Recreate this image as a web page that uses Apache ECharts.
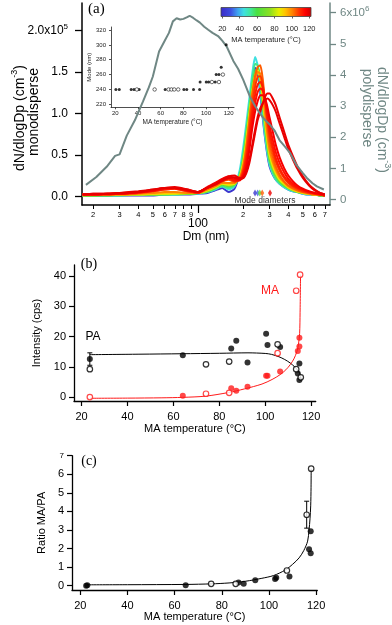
<!DOCTYPE html>
<html><head><meta charset="utf-8">
<script src="https://cdn.jsdelivr.net/npm/echarts@6/dist/echarts.min.js"></script>
<style>html,body{margin:0;padding:0;background:#fff}#c{width:392px;height:625px}</style>
</head><body><div id="c"></div>
<script>
// ---------- Panel (a): monodisperse size distributions (units 1e5 cm-3) ----------
const dmGrid = [17,20,25,30,40,50,60,70,85,100,115,130,145,160,175,190,200,210,220,230,240,250,260,270,280,290,300,315,330,350,375,400,430,460,500,550,600,650,700];
const monoTemps = [22,45,54,64,75,85,92,100,104,108,111,113,116,117.5,118];
const monoT22  = [.01,.01,.01,.01,.01,.01,.02,.02,.02,.03,.04,.07,.10,.05,.09,.28,.50,.80,1.10,1.38,1.55,1.48,1.25,.95,.70,.50,.36,.26,.20,.15,.11,.08,.06,.05,.03,.02,.02,.01,.01];
const monoT45  = [.01,.01,.01,.01,.02,.02,.02,.02,.03,.03,.05,.08,.12,.08,.12,.32,.58,.88,1.18,1.48,1.68,1.58,1.30,.98,.72,.52,.38,.27,.20,.15,.11,.08,.06,.05,.03,.02,.02,.01,.01];
const monoT54  = [.01,.01,.01,.01,.02,.02,.02,.02,.03,.04,.05,.09,.12,.10,.13,.28,.50,.80,1.10,1.40,1.60,1.58,1.38,1.06,.78,.57,.41,.29,.21,.16,.12,.09,.07,.05,.04,.03,.02,.01,.01];
const monoT64  = [.01,.01,.01,.02,.02,.02,.02,.03,.03,.04,.06,.10,.14,.12,.14,.25,.45,.74,1.05,1.32,1.50,1.55,1.42,1.15,.86,.62,.45,.33,.25,.18,.13,.10,.07,.05,.04,.03,.02,.01,.01];
const monoT75  = [.01,.01,.02,.02,.02,.02,.03,.03,.03,.04,.06,.10,.15,.13,.15,.25,.43,.70,1.00,1.28,1.46,1.52,1.42,1.16,.88,.64,.47,.34,.26,.19,.14,.10,.07,.05,.04,.03,.02,.01,.01];
const monoT85  = [.01,.02,.02,.02,.02,.03,.03,.03,.04,.04,.07,.11,.15,.14,.15,.24,.40,.66,.98,1.26,1.45,1.52,1.44,1.20,.92,.68,.50,.37,.28,.20,.15,.11,.08,.06,.04,.03,.02,.02,.01];
const monoT92  = [.02,.02,.02,.02,.03,.03,.04,.04,.04,.04,.08,.12,.16,.15,.16,.23,.38,.62,.94,1.22,1.42,1.50,1.46,1.24,.96,.72,.53,.40,.30,.22,.16,.11,.08,.06,.04,.03,.02,.02,.01];
const monoT100 = [.02,.02,.02,.02,.03,.04,.05,.05,.04,.04,.08,.12,.16,.16,.16,.22,.36,.60,.92,1.22,1.42,1.50,1.48,1.28,1.00,.75,.56,.42,.32,.23,.17,.12,.09,.07,.05,.03,.02,.02,.01];
const monoT104 = [.02,.02,.02,.03,.04,.06,.08,.09,.06,.04,.09,.13,.18,.20,.17,.22,.34,.58,.90,1.22,1.45,1.56,1.58,1.42,1.12,.85,.64,.48,.36,.26,.18,.13,.10,.07,.05,.04,.03,.02,.01];
const monoT108 = [.02,.02,.03,.03,.05,.07,.09,.10,.07,.04,.10,.14,.20,.22,.18,.20,.30,.50,.80,1.10,1.32,1.44,1.45,1.35,1.15,.92,.72,.55,.42,.31,.22,.16,.12,.09,.06,.04,.03,.02,.01];
const monoT111 = [.02,.02,.02,.03,.04,.06,.08,.09,.06,.04,.10,.14,.18,.21,.19,.20,.28,.45,.72,1.00,1.22,1.35,1.38,1.32,1.16,.96,.78,.60,.46,.34,.24,.18,.13,.10,.07,.05,.03,.02,.01];
const monoT113 = [.02,.02,.03,.03,.05,.07,.09,.10,.07,.05,.10,.15,.20,.23,.20,.19,.26,.40,.64,.92,1.12,1.26,1.30,1.28,1.18,1.02,.85,.68,.53,.40,.29,.21,.15,.11,.08,.05,.04,.02,.01];
const monoT116 = [.02,.02,.03,.03,.05,.07,.10,.10,.07,.05,.11,.16,.21,.24,.22,.20,.24,.35,.56,.82,1.02,1.15,1.22,1.22,1.18,1.08,.95,.78,.62,.47,.34,.25,.18,.13,.09,.06,.04,.03,.02];
const monoT117 = [.02,.03,.03,.04,.06,.08,.10,.11,.08,.05,.10,.15,.20,.24,.25,.22,.22,.28,.40,.58,.76,.92,1.02,1.12,1.20,1.24,1.24,1.18,1.10,.95,.78,.62,.48,.36,.24,.14,.08,.04,.02];
const monoT118 = [.02,.03,.03,.04,.05,.08,.10,.10,.08,.05,.10,.14,.19,.22,.23,.21,.22,.30,.44,.62,.80,.96,1.06,1.12,1.16,1.18,1.16,1.10,1.02,.88,.72,.57,.44,.33,.22,.13,.07,.04,.02];
const monoCurves = [monoT22,monoT45,monoT54,monoT64,monoT75,monoT85,monoT92,monoT100,monoT104,monoT108,monoT111,monoT113,monoT116,monoT117,monoT118];

// polydisperse (units 1e6 cm-3)
const polyDm = [17.9,21,24.6,28,30,33.5,38,43,47,50,55,60,64,68,72,76,80,84,88,93,98,103,110,117,125,136,145,155,172,185,200,222,240,259,280,302,325,350,380,410,454,500,530,580,620,690];
const polyN  = [0.47,0.72,1.05,1.40,1.45,2.05,2.55,3.15,3.6,3.95,4.75,5.1,5.35,5.72,5.82,5.78,5.8,5.85,5.9,5.83,5.75,5.68,5.55,5.45,5.35,5.25,5.1,4.92,4.45,4.2,3.85,3.3,3.0,2.76,2.55,2.4,2.2,1.9,1.7,1.5,1.1,0.85,0.7,0.52,0.42,0.32];

// mode diameters markers
const modeDm = [240,250,258,268,302];
const modeT  = [22,32,64,104,117];
const modeLevel = 0.04;

// inset: mode vs MA temperature
const insetFilledT    = [20.5,23.5,34,36.5,41,64,80.5,83,89,94.4,94.8,100.2,102.3,108.1,109,111.4,113.4,117.8];
const insetFilledMode = [240,240,240,240,240,240,240,240,240,240,250,250,250,250,260,260,270,300];
const insetOpenT      = [39,54.7,67,69.5,72,75.5,105.2,111.4,114.9];
const insetOpenMode   = [240,240,240,240,240,240,250,250,260];

// axis tick labels
const aXTicks = [20,30,40,50,60,70,80,90,200,300,400,500,600,700];
const aLeftTicks = [0,0.5,1.0,1.5,2.0];
const aRightTicks = [0,1,2,3,4,5,6];
const insetXTicks = [20,40,60,80,100,120];
const insetYTicks = [220,240,260,280,300,320];
const cbTicks = [20,40,60,80,100,120];
const tempTicks = [20,40,60,80,100,120];
const bYTicks = [0,10,20,30,40];
const cYTicks = [0,1,2,3,4,5,6,7];

// ---------- Panel (b): intensities ----------
const paFilledT = [23.6,64.1,85.2,87.4,92.3,100.4,101.0,106.5,114.9,114.2,114.9];
const paFilledI = [12.6,13.8,16.0,18.6,11.4,20.9,17.2,16.5,11.1,7.8,5.6];
const paOpenT   = [23.6,74.2,84.3,105.4,113.5,115.5];
const paOpenI   = [9.2,10.8,11.7,17.4,9.2,6.5];
const maFilledT = [64.1,85.2,87.4,92.3,100.4,101.0,106.5,114.2,114.9,114.9];
const maFilledI = [0.4,2.9,2.1,3.4,7.0,7.0,8.4,15.2,16.7,19.6];
const maOpenT   = [23.6,74.2,84.3,105.4,113.5,115.2];
const maOpenI   = [0.0,1.1,1.4,14.5,35.1,40.4];
const paErr     = [[23.6,10.5,14.6]];
const paFitT = [23.6,45,63.5,80,92.5,100,102.7,106,108.5,110.8,112.8,114.2,115,115.5];
const paFitI = [14.0,14.15,14.3,14.45,14.6,14.4,14.1,13.3,12.4,11.3,10.0,8.8,7.8,6.2];
const maFitT = [23.6,40,55,64,74,84,91,98.6,103,106.5,109,110.9,112.5,113.8,114.5,115,115.2,115.4];
const maFitI = [-0.4,-0.35,-0.25,-0.1,0.3,1.5,2.7,4.3,5.8,7.4,9.0,10.7,12.6,15.0,17.5,21,28,40.4];

// ---------- Panel (c): ratio MA/PA ----------
const rFilledT = [22.5,23.0,64.7,87.1,89.3,94.2,102.6,103.1,108.7,117.0,117.7,117.7];
const rFilledR = [0.0,0.02,0.03,0.18,0.1,0.29,0.36,0.43,0.5,1.97,2.93,1.75];
const rOpenT   = [75.5,85.9,107.6,116.0,117.9];
const rOpenR   = [0.1,0.1,0.82,3.82,6.3];
const rErr     = [[116.0,3.1,4.55]];
const rFitT = [22.8,40,64.8,75.5,83.1,90,97,102,107,110,112.8,114.8,116.4,117.0,117.4,117.7,117.85,117.9];
const rFitR = [0.05,0.055,0.07,0.1,0.15,0.24,0.4,0.55,0.85,1.15,1.5,1.9,2.4,3.0,3.6,4.3,5.3,6.3];

// ---------- styles ----------
const SANS = 'Liberation Sans, Arial, sans-serif';
const SERIF = 'Liberation Serif, Times New Roman, serif';
const GRAY = '#6f8784';
const RED = '#ff1a1a';
const cmapT = [20,30,38,45,52,60,75,85,92,100,108,115,120];
const cmapC = ['#3b2fc9','#3d4fe0','#3fa2f0','#3fe0e0','#40e8a0','#48e040','#8ee020','#e6f000','#ffc400','#ff8400','#ff3400','#ff0000','#d80000'];
function hex2rgb(h){return [1,3,5].map(i=>parseInt(h.substr(i,2),16));}
function cmap(t){
  if(t<=cmapT[0]) return cmapC[0];
  for(let i=1;i<cmapT.length;i++){
    if(t<=cmapT[i]){
      const f=(t-cmapT[i-1])/(cmapT[i]-cmapT[i-1]);
      const a=hex2rgb(cmapC[i-1]), b=hex2rgb(cmapC[i]);
      return 'rgb('+a.map((v,k)=>Math.round(v+(b[k]-v)*f)).join(',')+')';
    }
  }
  return cmapC[cmapC.length-1];
}
const zip = (a,b)=>a.map((v,i)=>[v,b[i]]);
const noSplit = {show:false};

function plainX(grid, min, max, ticks, o){
  return Object.assign({
    gridIndex:grid, type:'value', min, max, splitLine:noSplit,
    axisLine:{onZero:false, lineStyle:{color:'#000', width:1.3}},
    axisTick:{customValues:ticks, length:5, lineStyle:{color:'#000', width:1.2}},
    axisLabel:{customValues:ticks, color:'#000', fontSize:11, margin:10, fontFamily:SANS}
  }, o||{});
}
function plainY(grid, min, max, ticks, o){
  return Object.assign({
    gridIndex:grid, type:'value', min, max, splitLine:noSplit,
    axisLine:{onZero:false, lineStyle:{color:'#000', width:1.3}},
    axisTick:{customValues:ticks, length:5, lineStyle:{color:'#000', width:1.2}},
    axisLabel:{customValues:ticks, color:'#000', fontSize:11, margin:8, fontFamily:SANS}
  }, o||{});
}

const cbStops = [{offset:0,color:cmapC[0]}].concat(cmapT.map((t,i)=>({offset:(t-18.5)/(122-18.5),color:cmapC[i]}))).concat([{offset:1,color:cmapC[cmapC.length-1]}]);

const supRich = {
  b:{fontSize:12, lineHeight:16, fontFamily:SANS, color:'#000'},
  s:{fontSize:8, lineHeight:8, verticalAlign:'top', fontFamily:SANS, color:'#000'}
};
const supRichGray = {
  b:{fontSize:11.5, lineHeight:16, fontFamily:SANS, color:GRAY},
  s:{fontSize:8, lineHeight:8, verticalAlign:'top', fontFamily:SANS, color:GRAY}
};
const titleRich = {
  a:{fontSize:14, lineHeight:20, fontFamily:SANS},
  s:{fontSize:9, lineHeight:9, verticalAlign:'top', fontFamily:SANS}
};

function errSeries(xi, yi, data, color){
  return {type:'custom', xAxisIndex:xi, yAxisIndex:yi, data, z:4, silent:true,
    encode:{x:0, y:[1,2]},
    renderItem:(params, api)=>{
      const x=api.value(0), lo=api.value(1), hi=api.value(2);
      const p1=api.coord([x,lo]), p2=api.coord([x,hi]); const c=2.5;
      const st={stroke:color, lineWidth:1};
      return {type:'group', children:[
        {type:'line', shape:{x1:p1[0],y1:p1[1],x2:p2[0],y2:p2[1]}, style:st},
        {type:'line', shape:{x1:p1[0]-c,y1:p1[1],x2:p1[0]+c,y2:p1[1]}, style:st},
        {type:'line', shape:{x1:p2[0]-c,y1:p2[1],x2:p2[0]+c,y2:p2[1]}, style:st}
      ]};
    }};
}
function dots(xi, yi, xs, ys, color, size, z){
  return {type:'scatter', xAxisIndex:xi, yAxisIndex:yi, data:zip(xs,ys), symbol:'circle', symbolSize:size,
    itemStyle:{color:color}, z:z||5, silent:true};
}
function rings(xi, yi, xs, ys, color, size, bw, z){
  return {type:'scatter', xAxisIndex:xi, yAxisIndex:yi, data:zip(xs,ys), symbol:'circle', symbolSize:size,
    itemStyle:{color:'#fff', borderColor:color, borderWidth:bw}, z:z||5, silent:true};
}

const series = [];
monoCurves.forEach((c,i)=>{
  const col = cmap(monoTemps[i]);
  series.push({type:'line', xAxisIndex:0, yAxisIndex:0, data:zip(dmGrid,c), showSymbol:false, smooth:0.2,
    lineStyle:{width:2, color:col}, itemStyle:{color:col}, z:2, silent:true});
});
series.push({type:'line', xAxisIndex:0, yAxisIndex:1, data:zip(polyDm,polyN), showSymbol:false,
  lineStyle:{width:2, color:GRAY}, itemStyle:{color:GRAY}, z:3, silent:true});
series.push({type:'scatter', xAxisIndex:0, yAxisIndex:0, symbol:'diamond', symbolSize:[4,7], z:4, silent:true,
  data:modeDm.map((d,i)=>({value:[d,modeLevel], itemStyle:{color:cmap(modeT[i])}}))});
// inset
series.push(dots(2,2,insetFilledT,insetFilledMode,'#000',3,4));
series.push(rings(2,2,insetOpenT,insetOpenMode,'#000',3.5,0.7,4));
// panel b
series.push({type:'line', xAxisIndex:4, yAxisIndex:4, data:zip(paFitT,paFitI), showSymbol:false, smooth:0.3,
  lineStyle:{width:1, color:'#000'}, z:3, silent:true});
series.push({type:'line', xAxisIndex:4, yAxisIndex:4, data:zip(maFitT,maFitI), showSymbol:false, smooth:0.3,
  lineStyle:{width:1, color:RED}, z:3, silent:true});
series.push(errSeries(4,4,paErr,'#000'));
series.push(dots(4,4,paFilledT,paFilledI,'#000',6));
series.push(rings(4,4,paOpenT,paOpenI,'#000',5.5,1.2));
series.push(dots(4,4,maFilledT,maFilledI,RED,6));
series.push(rings(4,4,maOpenT,maOpenI,RED,5.5,1.2));
// panel c
series.push({type:'line', xAxisIndex:5, yAxisIndex:5, data:zip(rFitT,rFitR), showSymbol:false, smooth:0.3,
  lineStyle:{width:1, color:'#000'}, z:3, silent:true});
series.push(errSeries(5,5,rErr,'#000'));
series.push(dots(5,5,rFilledT,rFilledR,'#000',6));
series.push(rings(5,5,rOpenT,rOpenR,'#000',5.5,1.2));

const option = {
  animation:false, backgroundColor:'#fff', textStyle:{fontFamily:SANS},
  grid:[
    {left:82, top:3, width:248, height:202},
    {left:111, top:27, width:123, height:80.3},
    {left:221, top:7.5, width:90, height:9},
    {left:74, top:265, width:241.7, height:136},
    {left:72, top:455.7, width:245.3, height:134.3}
  ],
  xAxis:[
    {gridIndex:0, type:'log', logBase:10, min:16.85, max:758.6, position:'bottom', splitLine:noSplit,
      axisLine:{onZero:false, lineStyle:{color:'#000', width:1.5}},
      axisTick:{customValues:aXTicks, length:4, lineStyle:{color:'#000', width:1}},
      minorTick:{show:false},
      axisLabel:{customValues:aXTicks, color:'#000', fontSize:7.5, margin:6, fontFamily:SANS,
        formatter:v=>String(Math.round(v<100? v/10 : v/100))}},
    {gridIndex:0, type:'log', logBase:10, min:16.85, max:758.6, position:'bottom', splitLine:noSplit,
      axisLine:{show:false, onZero:false},
      axisTick:{customValues:[100], length:8, lineStyle:{color:'#000', width:1.2}},
      minorTick:{show:false},
      axisLabel:{customValues:[100], color:'#000', fontSize:12, margin:13, fontFamily:SANS, formatter:v=>'100'},
      name:'Dm (nm)', nameLocation:'middle', nameGap:26, nameTextStyle:{fontSize:12, color:'#000', fontFamily:SANS}},
    plainX(1, 16.2, 124.7, insetXTicks, {
      axisLine:{onZero:false, lineStyle:{color:'#222', width:0.8}},
      axisTick:{customValues:insetXTicks, length:2, lineStyle:{color:'#222', width:0.8}},
      axisLabel:{customValues:insetXTicks, color:'#222', fontSize:6, margin:3, fontFamily:SANS},
      name:'MA temperature (°C)', nameLocation:'middle', nameGap:11, nameTextStyle:{fontSize:6.5, color:'#222', fontFamily:SANS}}),
    plainX(2, 18.5, 122, cbTicks, {
      axisLine:{show:false, onZero:false},
      axisTick:{customValues:cbTicks, length:2, lineStyle:{color:'#333', width:0.8}},
      axisLabel:{customValues:cbTicks, color:'#222', fontSize:7.5, margin:8, fontFamily:SANS},
      name:'MA temperature (°C)', nameLocation:'middle', nameGap:19, nameTextStyle:{fontSize:7.5, color:'#222', fontFamily:SANS}}),
    plainX(3, 16.7, 122, tempTicks, {name:'MA temperature (°C)', nameLocation:'middle', nameGap:22,
      nameTextStyle:{fontSize:11, color:'#000', fontFamily:SANS}}),
    plainX(4, 16.5, 120.5, tempTicks, {name:'MA temperature (°C)', nameLocation:'middle', nameGap:21,
      nameTextStyle:{fontSize:11, color:'#000', fontFamily:SANS}})
  ],
  yAxis:[
    {gridIndex:0, type:'value', min:-0.106, max:2.333, position:'left', splitLine:noSplit,
      axisLine:{onZero:false, lineStyle:{color:'#000', width:1.5}},
      axisTick:{customValues:aLeftTicks, length:7, lineStyle:{color:'#000', width:1.3}},
      axisLabel:{customValues:aLeftTicks, margin:14, rich:supRich,
        formatter:v=> Math.abs(v-2)<1e-9 ? '{b|2.0x10}{s|5}' : '{b|'+v.toFixed(1)+'}'}},
    {gridIndex:0, type:'value', min:-0.177, max:6.31, position:'right', splitLine:noSplit,
      axisLine:{onZero:false, lineStyle:{color:GRAY, width:1.5}},
      axisTick:{customValues:aRightTicks, length:6, lineStyle:{color:GRAY, width:1.3}},
      axisLabel:{customValues:aRightTicks, margin:10, rich:supRichGray,
        formatter:v=> v===6 ? '{b|6x10}{s|6}' : '{b|'+v+'}'}},
    plainY(1, 216, 324, insetYTicks, {
      axisLine:{onZero:false, lineStyle:{color:'#222', width:0.8}},
      axisTick:{customValues:insetYTicks, length:2, lineStyle:{color:'#222', width:0.8}},
      axisLabel:{customValues:insetYTicks, color:'#222', fontSize:6, margin:5, fontFamily:SANS},
      name:'Mode (nm)', nameLocation:'middle', nameGap:17, nameTextStyle:{fontSize:6, color:'#222', fontFamily:SANS}}),
    {gridIndex:2, type:'value', min:0, max:1, show:false},
    plainY(3, -1.3, 43.6, bYTicks, {name:'Intensity (cps)', nameLocation:'middle', nameGap:30,
      nameTextStyle:{fontSize:11, color:'#000', fontFamily:SANS}}),
    plainY(4, -0.23, 7, cYTicks, {name:'Ratio MA/PA', nameLocation:'middle', nameGap:22,
      nameTextStyle:{fontSize:11, color:'#000', fontFamily:SANS},
      axisLabel:{customValues:cYTicks, color:'#000', fontSize:11, margin:8, fontFamily:SANS,
        formatter:v=> v===7 ? '{s|7}' : String(v), rich:{s:{fontSize:8, color:'#000', fontFamily:SANS}}}})
  ],
  graphic:[
    {type:'rect', shape:{x:221, y:7.5, width:90, height:9}, z:10,
      style:{fill:{type:'linear', x:0, y:0, x2:1, y2:0, colorStops:cbStops}, stroke:'#444', lineWidth:0.8}},
    {type:'text', x:88, y:2, z:10, style:{text:'(a)', fontSize:15, fontFamily:SERIF, fill:'#000', align:'left', verticalAlign:'top'}},
    {type:'text', x:89, y:264, z:10, style:{text:'(b)', fontSize:14, fontFamily:SERIF, fill:'#000', align:'center', verticalAlign:'middle'}},
    {type:'text', x:89, y:461, z:10, style:{text:'(c)', fontSize:14, fontFamily:SERIF, fill:'#000', align:'center', verticalAlign:'middle'}},
    {type:'text', x:93, y:337, z:10, style:{text:'PA', fontSize:12, fontFamily:SANS, fill:'#000', align:'center', verticalAlign:'middle'}},
    {type:'text', x:270, y:291, z:10, style:{text:'MA', fontSize:12, fontFamily:SANS, fill:RED, align:'center', verticalAlign:'middle'}},
    {type:'text', x:265, y:201, z:10, style:{text:'Mode diameters', fontSize:8.5, fontFamily:SANS, fill:'#333', align:'center', verticalAlign:'middle'}},
    {type:'text', x:20, y:118, rotation:Math.PI/2, z:10,
      style:{text:'{a|dN/dlogDp (cm}{s|-3}{a|)}', rich:titleRich, fill:'#000', align:'center', verticalAlign:'middle'}},
    {type:'text', x:34, y:112, rotation:Math.PI/2, z:10,
      style:{text:'monodisperse', fontSize:14, fontFamily:SANS, fill:'#000', align:'center', verticalAlign:'middle'}},
    {type:'text', x:382, y:120, rotation:-Math.PI/2, z:10,
      style:{text:'{a|dN/dlogDp (cm}{s|-3}{a|)}', rich:{a:{fontSize:14, lineHeight:20, fontFamily:SANS, color:GRAY}, s:{fontSize:9, lineHeight:9, verticalAlign:'top', fontFamily:SANS, color:GRAY}}, fill:GRAY, align:'center', verticalAlign:'middle'}},
    {type:'text', x:367, y:108, rotation:-Math.PI/2, z:10,
      style:{text:'polydisperse', fontSize:14, fontFamily:SANS, fill:GRAY, align:'center', verticalAlign:'middle'}}
  ],
  series
};
const chart = echarts.init(document.getElementById('c'), null, {renderer:'canvas'});
chart.setOption(option);
</script></body></html>
